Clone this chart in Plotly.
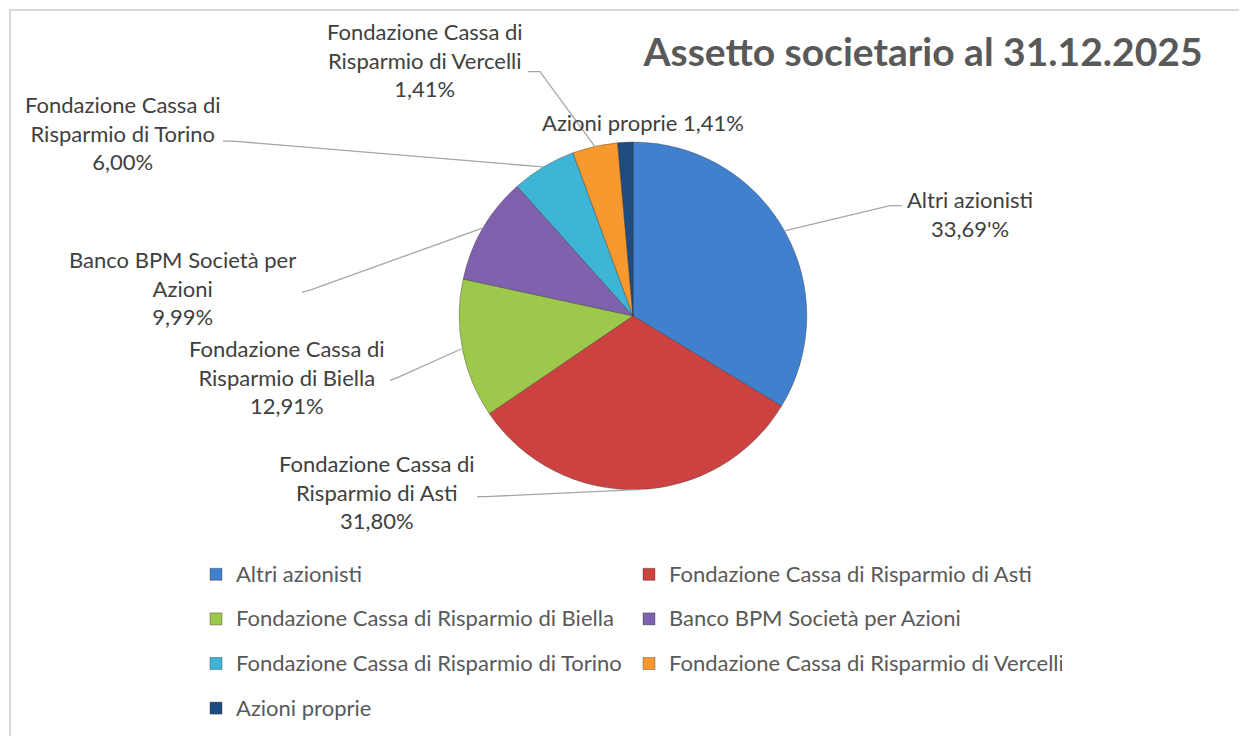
import math
import plotly.graph_objects as go

# ---------------- data ----------------
categories = [
    "Altri azionisti",
    "Fondazione Cassa di Risparmio di Asti",
    "Fondazione Cassa di Risparmio di Biella",
    "Banco BPM Società per Azioni",
    "Fondazione Cassa di Risparmio di Torino",
    "Fondazione Cassa di Risparmio di Vercelli",
    "Azioni proprie",
]
# slice sizes as drawn in the picture
values = [33.69, 31.80, 12.91, 9.99, 6.00, 4.20, 1.41]
# percentages as printed in the data labels
label_pct = ["33,69'%", "31,80%", "12,91%", "9,99%", "6,00%", "1,41%", "1,41%"]
label_names = [
    "Altri azionisti",
    "Fondazione Cassa di<br>Risparmio di Asti",
    "Fondazione Cassa di<br>Risparmio di Biella",
    "Banco BPM Società per<br>Azioni",
    "Fondazione Cassa di<br>Risparmio di Torino",
    "Fondazione Cassa di<br>Risparmio di Vercelli",
    "Azioni proprie",
]
colors = ["#4080CC", "#CB4241", "#9DC84C", "#7F61AE", "#3EB5D6", "#F7992F", "#1F4C7E"]
title_text = "Assetto societario al 31.12.2025"

# ---------------- layout (pixels, page coordinates) ----------------
OFF = 8                      # page body margin
W, H = 1247 - OFF, 736 - OFF  # figure size
CX, CY, R = 633, 318, 175
FONT = "Lato"
TXT = "#404040"
LBL = 22

# label text centres (px) and leader tails (px) - layout only
label_pos = [(970, 215), (377, 495), (287, 380), (182, 290), (123, 134), (425, 60), (643, 123)]
leader_tail = [
    [(902, 207), (890, 207)],
    [(477, 500), (486, 500)],
    [(390, 383), (398, 380)],
    [(302, 294), (310, 292)],
    [(223, 142), (233, 142)],
    [(528, 72), (540, 72)],
    None,
]

def px(x, y):
    return (x - OFF) / W, 1 - (y - OFF) / H

fig = go.Figure()
fig.add_trace(go.Pie(
    labels=categories,
    values=values,
    sort=False,
    direction="clockwise",
    rotation=0,
    textinfo="none",
    marker=dict(colors=colors, line=dict(color="rgba(40,40,40,0.35)", width=1)),
    domain=dict(x=[(CX - R - OFF) / W, (CX + R - OFF) / W],
                y=[1 - (CY + R - OFF) / H, 1 - (CY - R - OFF) / H]),
    showlegend=True,
))

# data labels with leader lines computed from slice mid-angles
total = sum(values)
cum = 0.0
annotations = []
shapes = []
for i, v in enumerate(values):
    mid = (cum + v / 2) / total * 2 * math.pi
    cum += v
    hx = CX + R * math.sin(mid)
    hy = CY - R * math.cos(mid)
    lx, ly = label_pos[i]
    ax_, ay_ = px(lx, ly)
    annotations.append(dict(
        x=ax_, y=ay_, xref="paper", yref="paper", showarrow=False,
        text=(label_names[i] + "<br>" + label_pct[i]) if i != 6 else (label_names[i] + " " + label_pct[i]),
        align="center", xanchor="center", yanchor="middle",
        font=dict(family=FONT, size=LBL, color=TXT),
    ))
    if leader_tail[i] is not None:
        pts = leader_tail[i] + [(hx, hy)]
        path = ""
        for j, (x, y) in enumerate(pts):
            X, Y = px(x, y)
            path += ("M" if j == 0 else " L") + f"{X:.5f},{Y:.5f}"
        shapes.append(dict(type="path", path=path, xref="paper", yref="paper",
                           line=dict(color="#A6A6A6", width=1.3)))

# chart border
bx0, by0 = px(10, 10)
shapes.append(dict(type="rect", xref="paper", yref="paper",
                   x0=bx0, x1=1.2, y0=-0.2, y1=by0,
                   line=dict(color="#D9D9D9", width=2), fillcolor="rgba(0,0,0,0)", layer="below"))

lx0, ly0 = px(196, 551)
tx, ty = px(923, 52)
fig.update_layout(
    width=W, height=H,
    margin=dict(l=0, r=0, t=0, b=0),
    paper_bgcolor="white",
    plot_bgcolor="white",
    font=dict(family=FONT, color=TXT),
    title=dict(text="<b>" + title_text + "</b>", x=tx, xanchor="center",
               y=ty, yanchor="middle",
               font=dict(family=FONT, size=39, color="#595959")),
    annotations=annotations,
    shapes=shapes,
    legend=dict(
        orientation="h",
        x=lx0, xanchor="left",
        y=ly0, yanchor="top",
        entrywidth=388, entrywidthmode="pixels",
        font=dict(family=FONT, size=32, color="#595959"),
        itemclick=False,
    ),
)

# legend text rendered at label size inside a larger line box for row spacing
fig.data[0].labels = [f'<span style="font-size:{LBL}px;baseline-shift:5px">{c}</span>' for c in categories]
fig.data[0].customdata = categories
fig.data[0].hovertemplate = "%{customdata}: %{percent}<extra></extra>"

fig.write_html("out.html")
